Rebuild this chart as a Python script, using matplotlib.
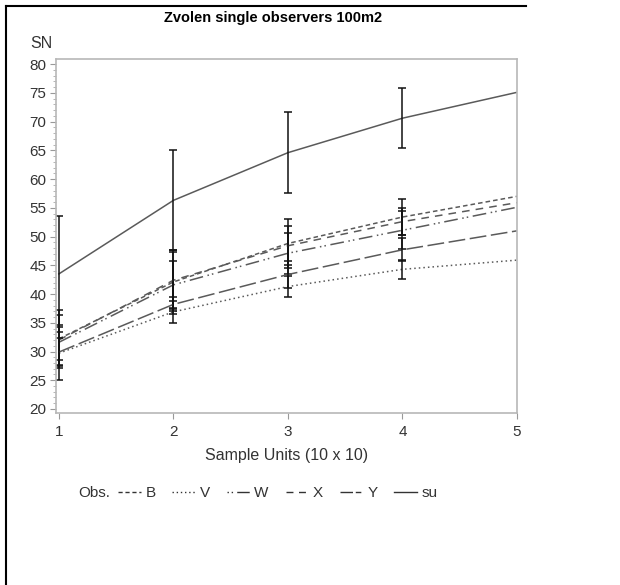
import matplotlib
matplotlib.use("Agg")
import matplotlib.pyplot as plt
from matplotlib.lines import Line2D
from matplotlib.ticker import MultipleLocator

plt.rcParams['font.family'] = ['Liberation Sans', 'DejaVu Sans']

units = [1, 2, 3, 4, 5]
series_names = ["B", "V", "W", "X", "Y", "su"]

B_mean = [32.2, 42.1, 48.8, 53.4, 57.0]
B_sd = [5.0, 5.5, 4.2, 3.1, 0.0]
V_mean = [29.7, 36.9, 41.3, 44.3, 45.9]
V_sd = [4.6, 1.9, 1.8, 1.7, 0.0]
W_mean = [31.6, 41.6, 47.1, 51.1, 55.1]
W_sd = [3.0, 4.1, 3.6, 3.3, 0.0]
X_mean = [32.0, 42.4, 48.4, 52.6, 55.9]
X_sd = [4.4, 5.0, 3.4, 2.4, 0.0]
Y_mean = [29.9, 38.2, 43.4, 47.7, 51.0]
Y_sd = [2.5, 1.2, 2.3, 2.0, 0.0]
su_mean = [43.5, 56.3, 64.6, 70.6, 75.1]
su_sd = [10.1, 8.7, 7.1, 5.2, 0.0]

means = {"B": B_mean, "V": V_mean, "W": W_mean, "X": X_mean, "Y": Y_mean, "su": su_mean}
sds = {"B": B_sd, "V": V_sd, "W": W_sd, "X": X_sd, "Y": Y_sd, "su": su_sd}
styles = {
    "B": (0, (3, 2)),
    "V": (0, (1, 2)),
    "W": (0, (9, 3, 1, 2, 1, 3)),
    "X": (0, (5, 4)),
    "Y": (0, (11, 3)),
    "su": "solid",
}
legend_styles = dict(styles)
legend_styles["W"] = (12, (9, 3, 1, 2, 1, 3))
legend_styles["Y"] = (0, (9, 2, 4, 2))

fig = plt.figure(figsize=(6.2, 5.85), dpi=100)
ax = fig.add_axes([56 / 620, 172 / 585, (517 - 56) / 620, (413 - 59) / 585])

for name in series_names:
    ax.plot(units, means[name], color="#5a5a5a", lw=1.1, linestyle=styles[name])
    eu = [u for u, s in zip(units, sds[name]) if s > 0]
    em = [m for m, s in zip(means[name], sds[name]) if s > 0]
    es = [s for s in sds[name] if s > 0]
    ax.errorbar(eu, em, yerr=es, fmt="none", ecolor="#111111", elinewidth=1.1,
                capsize=2.8, capthick=1.1)

ax.set_xlim(0.975, 5.0)
ax.set_ylim(19.3, 80.9)
ax.set_xticks(units)
ax.yaxis.set_major_locator(MultipleLocator(5))
ax.yaxis.set_minor_locator(MultipleLocator(1))
for sp in ax.spines.values():
    sp.set_color("#b8b8b8")
    sp.set_linewidth(1.2)
ax.tick_params(axis="both", which="major", labelsize=11, colors="#999999",
               labelcolor="#333333", length=4, pad=3)
ax.tick_params(axis="x", which="major", pad=5)
ax.tick_params(axis="y", which="minor", colors="#aaaaaa", length=2)
ax.set_xlabel("Sample Units (10 x 10)", fontsize=11.5, color="#333333", labelpad=6)

fig.text(30 / 620, 1 - 44 / 585, "SN", fontsize=11.5, color="#333333", va="center", ha="left")
fig.text(273 / 620, 1 - 18 / 585, "Zvolen single observers 100m2", fontsize=10.5,
         fontweight="bold", ha="center", va="center")

# legend
fig.text(78 / 620, 1 - 493 / 585, "Obs.", fontsize=11, color="#333333", va="center", ha="left")
handles = [Line2D([], [], color="#333333", lw=1.0, linestyle=legend_styles[n]) for n in series_names]
leg = fig.legend(handles, series_names, loc="center left",
                 bbox_to_anchor=(118 / 620, 1 - 493 / 585), ncol=6, frameon=False,
                 handlelength=1.5, handletextpad=0.3, columnspacing=1.1, fontsize=11,
                 borderpad=0, borderaxespad=0)
for t in leg.get_texts():
    t.set_color("#333333")

# page border lines
fig.add_artist(Line2D([6 / 620, 526 / 620], [1 - 6 / 585, 1 - 6 / 585],
                      color="black", lw=1.5, transform=fig.transFigure))
fig.add_artist(Line2D([6 / 620, 6 / 620], [0, 1 - 6 / 585],
                      color="black", lw=1.5, transform=fig.transFigure))

fig.savefig("out.png", dpi=100)
